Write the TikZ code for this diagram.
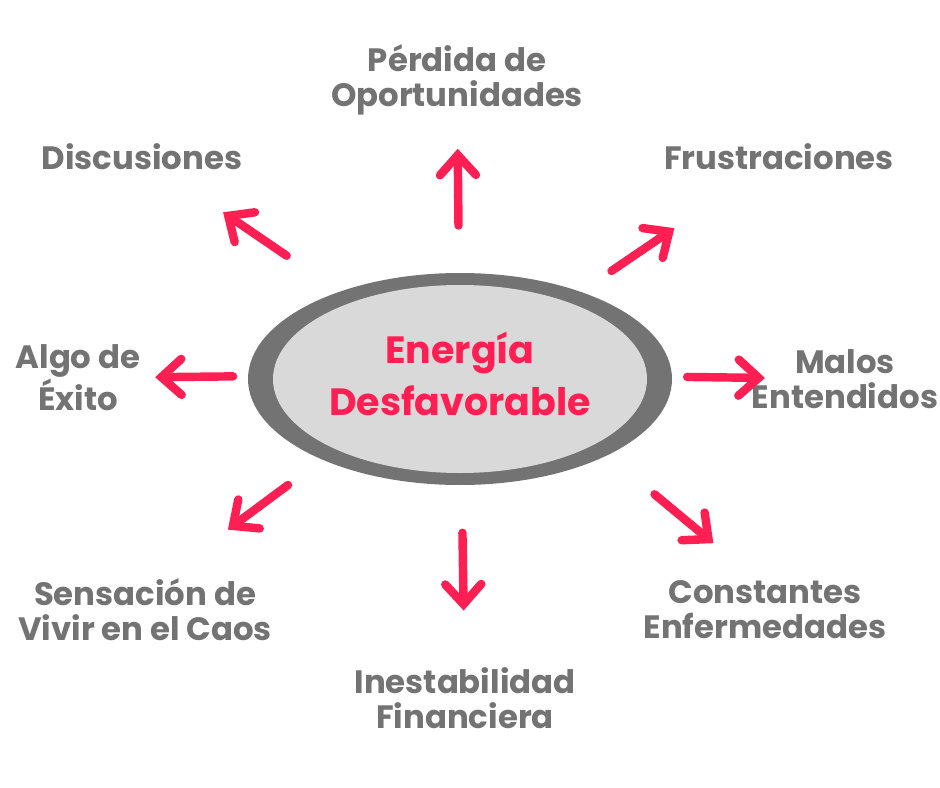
\documentclass[tikz,border=0pt]{standalone}
\usepackage{fontspec}
\setmainfont{Poppins}[BoldFont={* Bold}]
\usetikzlibrary{arrows.meta,calc}

\definecolor{rosa}{RGB}{255,31,83}
\definecolor{gristxt}{RGB}{115,115,115}
\definecolor{grisclaro}{RGB}{217,217,217}

\tikzset{
  label/.style={align=center,text=gristxt,font=\bfseries\fontsize{23}{25}\selectfont},
  flecha/.style={draw=rosa,line width=6pt,line cap=round,
    -{Straight Barb[length=5mm,width=9mm,line cap=round]}}
}

\begin{document}
\begin{tikzpicture}[x=0.025cm,y=-0.025cm]

% Canvas
\useasboundingbox (0,0) rectangle (940,788);
\fill[white] (0,0) rectangle (940,788);

% Centre
\fill[gristxt] (460,379) ellipse (212 and 106);
\fill[grisclaro] (460,379) ellipse (187 and 94);
\node[align=center,text=rosa,font=\bfseries\fontsize{27}{37}\selectfont] (core) at (460,374) {Energía\\Desfavorable};

% Outer labels
\node[label] (perdida) at (457,80) {Pérdida de\\Oportunidades};
\node[label] (disc) at (142,157) {Discusiones};
\node[label] (frus) at (779,157) {Frustraciones};
\node[label] (algo) at (78,378) {Algo de\\Éxito};
\node[label] (malos) at (845,379) {Malos\\Entendidos};
\node[label] (sens) at (145,610) {Sensación de\\Vivir en el Caos};
\node[label] (inest) at (465,698) {Inestabilidad\\Financiera};
\node[label] (const) at (765,610) {Constantes\\Enfermedades};

% Arrows
\draw[flecha] ($(core)!0.505!(perdida)$) -- ($(core)!0.766!(perdida)$);
\draw[flecha] ($(core)!0.545!(disc)$) -- ($(core)!0.745!(disc)$);
\draw[flecha] ($(core)!0.475!(frus)$) -- ($(core)!0.672!(frus)$);
\draw[flecha] ($(core)!0.594!(algo)$) -- ($(core)!0.798!(algo)$);
\draw[flecha] ($(core)!0.59!(malos)$) -- ($(core)!0.792!(malos)$);
\draw[flecha] ($(core)!0.52!-4:(sens)$) -- ($(core)!0.71!-3:(sens)$);
\draw[flecha] ($(core)!0.49!(inest)$) -- ($(core)!0.73!(inest)$);
\draw[flecha] ($(core)!0.593!6:(const)$) -- ($(core)!0.79!4:(const)$);

\end{tikzpicture}
\end{document}
